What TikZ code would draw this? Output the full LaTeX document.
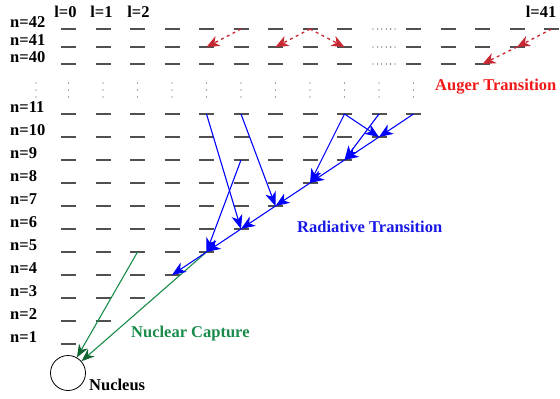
\documentclass[tikz,border=0pt]{standalone}
\usepackage{fontspec}
\setmainfont{Liberation Serif}
\usetikzlibrary{arrows.meta}
\definecolor{auger}{RGB}{200,40,50}
\definecolor{augertext}{RGB}{240,25,25}
\definecolor{capt}{RGB}{25,140,75}
\definecolor{captdark}{RGB}{15,100,50}
\definecolor{rad}{RGB}{0,0,255}
\definecolor{radtext}{RGB}{25,25,230}
\definecolor{lev}{RGB}{80,80,80}
\begin{document}
\begin{tikzpicture}[x=1pt,y=-1pt,
  lvl/.style={draw=lev,line width=1.3pt},
  lab/.style={font=\fontsize{16.5}{18}\selectfont\bfseries,inner sep=0pt,anchor=base west},
  radarr/.style={draw=rad,line width=1.1pt,-{Stealth[length=14pt,width=11pt,inset=4pt]}},
  augarr/.style={draw=auger,line width=1.3pt,dash pattern=on 3pt off 3.5pt,-{Stealth[length=13pt,width=11pt,inset=4pt]}},
  caparr/.style={draw=capt,line width=1.1pt,-{Stealth[length=13pt,width=10pt,inset=4pt,color=captdark]}},
  nucsty/.style={draw,circle,minimum size=35pt,inner sep=0pt,line width=0.8pt}
]
\useasboundingbox (0,0) rectangle (560,399);

% levels n = 1..11
\foreach \n in {1,...,11}{
  \pgfmathsetmacro\yy{344-23*(\n-1)}
  \node[lab] (n\n) at (10,\yy-1.5) {n=\n};
  \pgfmathtruncatemacro\lmax{\n-1}
  \foreach \l in {0,...,\lmax}{
    \coordinate (d-\n-\l) at ({68.5+34.5*\l},\yy);
    \draw[lvl] ([xshift=-7.5pt]d-\n-\l) -- ([xshift=7.5pt]d-\n-\l);
  }
}
% levels n = 40..42
\foreach \n/\yy/\cmax in {40/64/12,41/47/13,42/29/14}{
  \node[lab] (n\n) at (10,\yy-1.5) {n=\n};
  \foreach \c in {0,...,8,10,11,...,\cmax}{
    \coordinate (d-\n-\c) at ({68.5+34.5*\c},\yy);
    \draw[lvl] ([xshift=-7.5pt]d-\n-\c) -- ([xshift=7.5pt]d-\n-\c);
  }
  \foreach \k in {0,...,5}{
    \fill[black!75] ({373+4.4*\k},\yy) circle (0.65);
  }
}
% vertical ellipses
\foreach \xx in {36,68.5,103,137.5,172,206.5,241,275.5,310,344.5,379,413.5}{
  \foreach \yv in {83,90,97}{
    \fill[black!70] (\xx,\yv) circle (0.65);
  }
}
% l labels
\node[lab,anchor=base] (l0) at (65.5,17) {l=0};
\node[lab,anchor=base] (l1) at (101.5,17) {l=1};
\node[lab,anchor=base] (l2) at (138.5,17) {l=2};
\node[lab,anchor=base] (l41) at (541,17) {l=41};

% nucleus
\node[nucsty] (nuc) at (68,373) {};
\node[lab] (nuctext) at (89,390) {Nucleus};

% nuclear capture
\draw[caparr] (d-5-2) -- (nuc);
\draw[caparr] (d-5-4) -- (nuc);
\node[lab,text=capt] (captext) at (131,337) {Nuclear Capture};

% radiative transitions
\draw[radarr] (d-11-10) -- (d-10-9);
\draw[radarr] (d-10-9) -- (d-9-8);
\draw[radarr] (d-9-8) -- (d-8-7);
\draw[radarr] (d-8-7) -- (d-7-6);
\draw[radarr] (d-7-6) -- (d-6-5);
\draw[radarr] (d-6-5) -- (d-5-4);
\draw[radarr] (d-5-4) -- (d-4-3);
\draw[radarr] (d-11-8) -- (d-10-9);
\draw[radarr] (d-11-8) -- (d-8-7);
\draw[radarr] (d-11-9) -- (d-9-8);
\draw[radarr] (d-11-4) -- (d-6-5);
\draw[radarr] (d-11-5) -- (d-7-6);
\draw[radarr] (d-9-5) -- (d-5-4);
\node[lab,text=radtext] (radtext) at (297,232) {Radiative Transition};

% Auger transitions
\draw[augarr] (d-42-5) -- (d-41-4);
\draw[augarr] (d-42-7) -- (d-41-6);
\draw[augarr] (d-42-7) -- (d-41-8);
\draw[augarr] (d-42-14) -- (d-41-13);
\draw[augarr] (d-41-13) -- (d-40-12);
\node[lab,text=augertext] (augtext) at (435,90) {Auger Transition};
\end{tikzpicture}
\end{document}
